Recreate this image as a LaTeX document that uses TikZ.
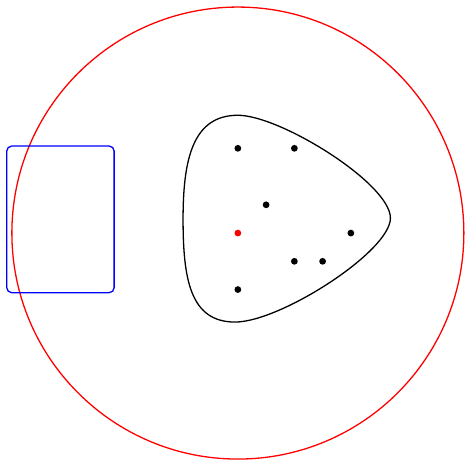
\documentclass[tikz,border=0pt]{standalone}
\usepackage{tikz}
\usetikzlibrary{calc}
\tikzset{
  pt/.style={circle, fill=black, inner sep=0pt, minimum size=6.8pt},
  redpt/.style={pt, fill=red},
  ring/.style={draw=red, line width=1.3pt},
  box/.style={draw=blue, line width=1.3pt, rounded corners=5pt},
  blob/.style={draw=black, line width=1.3pt}
}

\begin{document}
\begin{tikzpicture}
      \useasboundingbox (-8.42,-8.04) rectangle (8.04,8.25);
      \draw[ring] (0,0) circle (8);
      \draw[box] (-8.18,-2.11) rectangle (-4.38,3.08);
      \draw[blob] (0,4.17) .. controls (1.5,4.17) and (5.4,1.75) .. (5.4,0.53)
        .. controls (5.4,-0.65) and (1.5,-3.15) .. (-0.1,-3.15)
        .. controls (-1.7,-3.15) and (-1.94,-1.6) .. (-1.94,0.5)
        .. controls (-1.94,2.6) and (-1.6,4.17) .. (0,4.17);
      \node[redpt] (o) at (0,0) {};
      \node[pt] (a) at (0,3) {};
      \node[pt] (b) at (2,3) {};
      \node[pt] (c) at (1,1) {};
      \node[pt] (d) at (4,0) {};
      \node[pt] (e) at (2,-1) {};
      \node[pt] (f) at (3,-1) {};
      \node[pt] (g) at (0,-2) {};
    \end{tikzpicture}
\end{document}
